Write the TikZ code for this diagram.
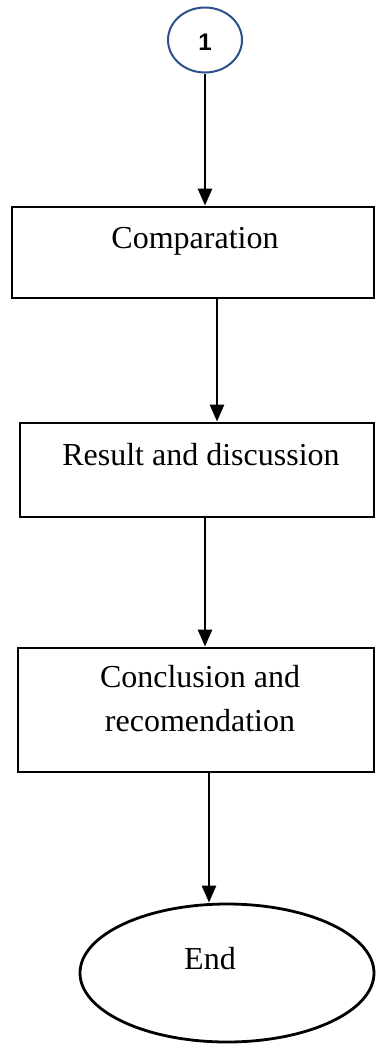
\documentclass[tikz,border=0pt]{standalone}
\usepackage{fontspec}
\setmainfont{Liberation Serif}
\newfontfamily\numfont{Liberation Sans}
\usetikzlibrary{arrows.meta,shapes.geometric}
\definecolor{cblue}{RGB}{45,80,140}
\tikzset{
  stepbox/.style={draw=black, line width=2.8pt, rectangle, inner sep=0pt},
  txt/.style={font=\fontsize{32}{38}\selectfont, anchor=base, inner sep=0pt},
  arr/.style={line width=2.8pt, -{Triangle[width=14pt,length=17pt]}},
}
\begin{document}
\begin{tikzpicture}[x=1pt,y=-1pt]
\useasboundingbox (0,0) rectangle (376,1045);
\fill[white] (0,0) rectangle (376,1045);
% connector circle
\node[draw=cblue, line width=2pt, ellipse, minimum width=74pt, minimum height=65pt, inner sep=0pt] (c1) at (205,40) {};
\node[font=\numfont\bfseries\fontsize{24}{28}\selectfont] (n1) at (205,42) {1};
% boxes
\node[stepbox, minimum width=362pt, minimum height=91pt] (b1) at (193,252.5) {};
\node[txt] (t1) at (195,248) {Comparation};
\node[stepbox, minimum width=354pt, minimum height=94pt] (b2) at (197,470) {};
\node[txt] (t2) at (201,465) {Result and discussion};
\node[stepbox, minimum width=356pt, minimum height=124pt] (b3) at (196,710) {};
\node[txt] (t3a) at (200,687) {Conclusion and};
\node[txt] (t3b) at (200,731) {recomendation};
\node[draw=black, line width=2.8pt, ellipse, minimum width=294pt, minimum height=138pt, inner sep=0pt] (e1) at (227,973) {};
\node[txt] (t4) at (210,969) {End};
% arrows
\draw[arr] (c1.south) -- (c1.south |- b1.north);
\draw[arr] ([xshift=24pt]b1.south) -- ([xshift=24pt]b1.south |- b2.north);
\draw[arr] ([xshift=8pt]b2.south) -- ([xshift=8pt]b2.south |- b3.north);
\coordinate (e1t) at ([xshift=13pt]b3.south);
\draw[arr] (e1t) -- (e1t |- e1.north);
\end{tikzpicture}
\end{document}
